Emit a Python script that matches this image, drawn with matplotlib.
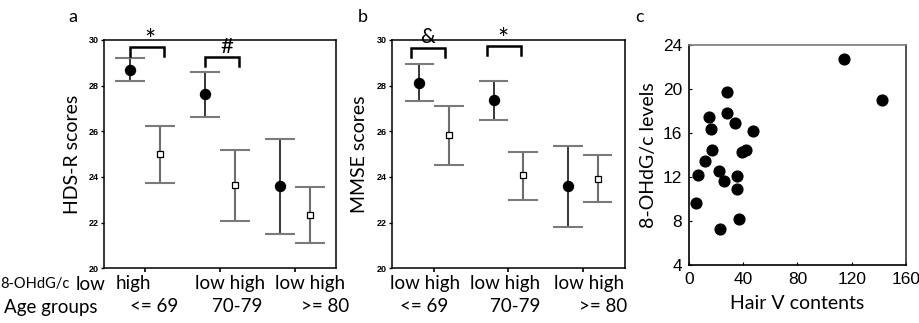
import matplotlib
matplotlib.use("Agg")
import matplotlib.pyplot as plt
import numpy as np

# ---- data ----
groups = ["<= 69", "70-79", ">= 80"]
hds_low_mean = [28.7, 27.62, 23.6]
hds_low_hi = [29.22, 28.61, 25.67]
hds_low_lo = [28.2, 26.61, 21.52]
hds_high_mean = [25.0, 23.63, 22.35]
hds_high_hi = [26.23, 25.18, 23.57]
hds_high_lo = [23.74, 22.09, 21.11]

mmse_low_mean = [28.13, 27.35, 23.6]
mmse_low_hi = [28.93, 28.2, 25.35]
mmse_low_lo = [27.31, 26.5, 21.81]
mmse_high_mean = [25.83, 24.07, 23.89]
mmse_high_hi = [27.1, 25.1, 24.96]
mmse_high_lo = [24.52, 22.98, 22.9]

hair_v = [5.2, 6.4, 11.8, 15.0, 16.2, 16.7, 22.2, 22.9, 25.8, 27.8, 27.8,
          34.2, 35.4, 35.7, 37.2, 39.1, 41.8, 47.3, 114.2, 142.3]
ohdg = [9.68, 12.16, 13.43, 17.47, 16.36, 14.48, 12.55, 7.23, 11.61, 19.77,
        17.78, 16.87, 10.95, 12.1, 8.17, 14.27, 14.45, 16.18, 22.73, 18.98]

TXT = ["Lato", "DejaVu Sans"]
NUM = ["Liberation Sans Narrow", "Liberation Sans", "DejaVu Sans"]

fig = plt.figure(figsize=(9.2, 3.23), dpi=100)
W, H = 920.0, 323.0

def ax_at(l, r, t, b):
    return fig.add_axes([l / W, (H - b) / H, (r - l) / W, (b - t) / H])

def errpanel(ax, lm, lhi, llo, hm, hhi, hlo, xlim):
    x = np.arange(1, len(lm) + 1)
    off = 0.2
    lm = np.array(lm); hm = np.array(hm)
    ax.errorbar(x - off, lm, yerr=[lm - np.array(llo), np.array(lhi) - lm],
                fmt='none', ecolor='black', elinewidth=1.1, capsize=0, zorder=2)
    ax.errorbar(x + off, hm, yerr=[hm - np.array(hlo), np.array(hhi) - hm],
                fmt='none', ecolor='#6e6e6e', elinewidth=1.5, capsize=0, zorder=2)
    for xs, los, his in ((x - off, llo, lhi), (x + off, hlo, hhi)):
        for xi, lo, hi in zip(xs, los, his):
            for v in (lo, hi):
                ax.plot([xi - 0.2, xi + 0.2], [v, v], color='#7a7a7a', lw=1.5,
                        zorder=2, solid_capstyle='butt')
    ax.plot(x - off, lm, 'o', color='black', ms=7.2, zorder=3)
    ax.plot(x + off, hm, 's', mfc='white', mec='black', mew=0.9, ms=4.6, zorder=3)
    ax.set_xlim(*xlim)
    ax.set_ylim(20, 30)
    ax.set_yticks([20, 22, 24, 26, 28, 30])
    ax.set_xticks([1, 2, 3])
    ax.set_xticklabels([])
    ax.tick_params(axis='y', labelsize=6.5, length=2, width=1, pad=1.5)
    ax.tick_params(axis='x', length=3, width=1.2)
    for lab in ax.get_yticklabels():
        lab.set_fontweight('bold')
        lab.set_family(["Liberation Sans", "DejaVu Sans"])
    for s in ax.spines.values():
        s.set_linewidth(1.1)

def bracket(ax, x0, x1, ytop, ybot, sym, sx, sy, size=15):
    ax.plot([x0, x0, x1, x1], [ybot, ytop, ytop, ybot], color='black', lw=1.8,
            clip_on=False, solid_joinstyle='miter')
    ax.text(sx, sy, sym, ha='center', va='center', fontsize=size, family=TXT,
            clip_on=False)

# panel a
axa = ax_at(104, 335.7, 40, 268.3)
errpanel(axa, hds_low_mean, hds_low_hi, hds_low_lo,
         hds_high_mean, hds_high_hi, hds_high_lo, (0.453, 3.543))
axa.set_ylabel("HDS-R scores", family=TXT, fontsize=14, labelpad=6)
bracket(axa, 0.8, 1.257, 29.71, 29.3, "*", 1.07, 29.95, size=19)
bracket(axa, 1.8, 2.257, 29.27, 28.86, "#", 2.09, 29.68, size=16)

# panel b
axb = ax_at(391.7, 624.7, 40, 268.3)
errpanel(axb, mmse_low_mean, mmse_low_hi, mmse_low_lo,
         mmse_high_mean, mmse_high_hi, mmse_high_lo, (0.426, 3.566))
axb.set_ylabel("MMSE scores", family=TXT, fontsize=14, labelpad=6)
bracket(axb, 0.686, 1.144, 29.66, 29.24, "&", 0.91, 30.12)
bracket(axb, 1.706, 2.164, 29.74, 29.34, "*", 1.93, 29.98, size=19)

# panel c
axc = ax_at(689, 906, 45, 265)
axc.scatter(hair_v, ohdg, s=60, color='black', zorder=3)
axc.set_xlim(0, 160)
axc.set_ylim(4, 24)
axc.set_xticks([0, 40, 80, 120, 160])
axc.set_yticks([4, 8, 12, 16, 20, 24])
axc.tick_params(direction='in', length=2, labelsize=12.5, pad=5)
for lab in axc.get_xticklabels() + axc.get_yticklabels():
    lab.set_family(NUM)
axc.spines['top'].set_color('#7a7a7a')
axc.spines['right'].set_color('#333333')
for s in axc.spines.values():
    s.set_linewidth(1.2)
axc.set_xlabel("Hair V contents", family=TXT, fontsize=14, labelpad=6)
axc.set_ylabel("8-OHdG/c levels", family=TXT, fontsize=14, labelpad=4)

# panel letters
for x, s in [(73, "a"), (363, "b"), (640, "c")]:
    fig.text(x / W, 1 - 17 / H, s, family=TXT, fontsize=13, ha='center', va='center')

# bottom labels
def ftext(x, y, s, ha='center', size=13.5):
    fig.text(x / W, 1 - y / H, s, family=TXT, fontsize=size, ha=ha, va='center')

row1, row2 = 284, 307
ftext(0, row1, "8-OHdG/c", ha='left', size=10.5)
ftext(91, row1, "low")
ftext(133, row1, "high")
ftext(230, row1, "low high")
ftext(310, row1, "low high")
ftext(4, row2, "Age groups", ha='left')
ftext(154, row2, groups[0])
ftext(237, row2, groups[1])
ftext(325, row2, groups[2])

ftext(425, row1, "low high")
ftext(505, row1, "low high")
ftext(589, row1, "low high")
ftext(424, row2, groups[0])
ftext(515, row2, groups[1])
ftext(603, row2, groups[2])

fig.savefig("out.png", dpi=100)
